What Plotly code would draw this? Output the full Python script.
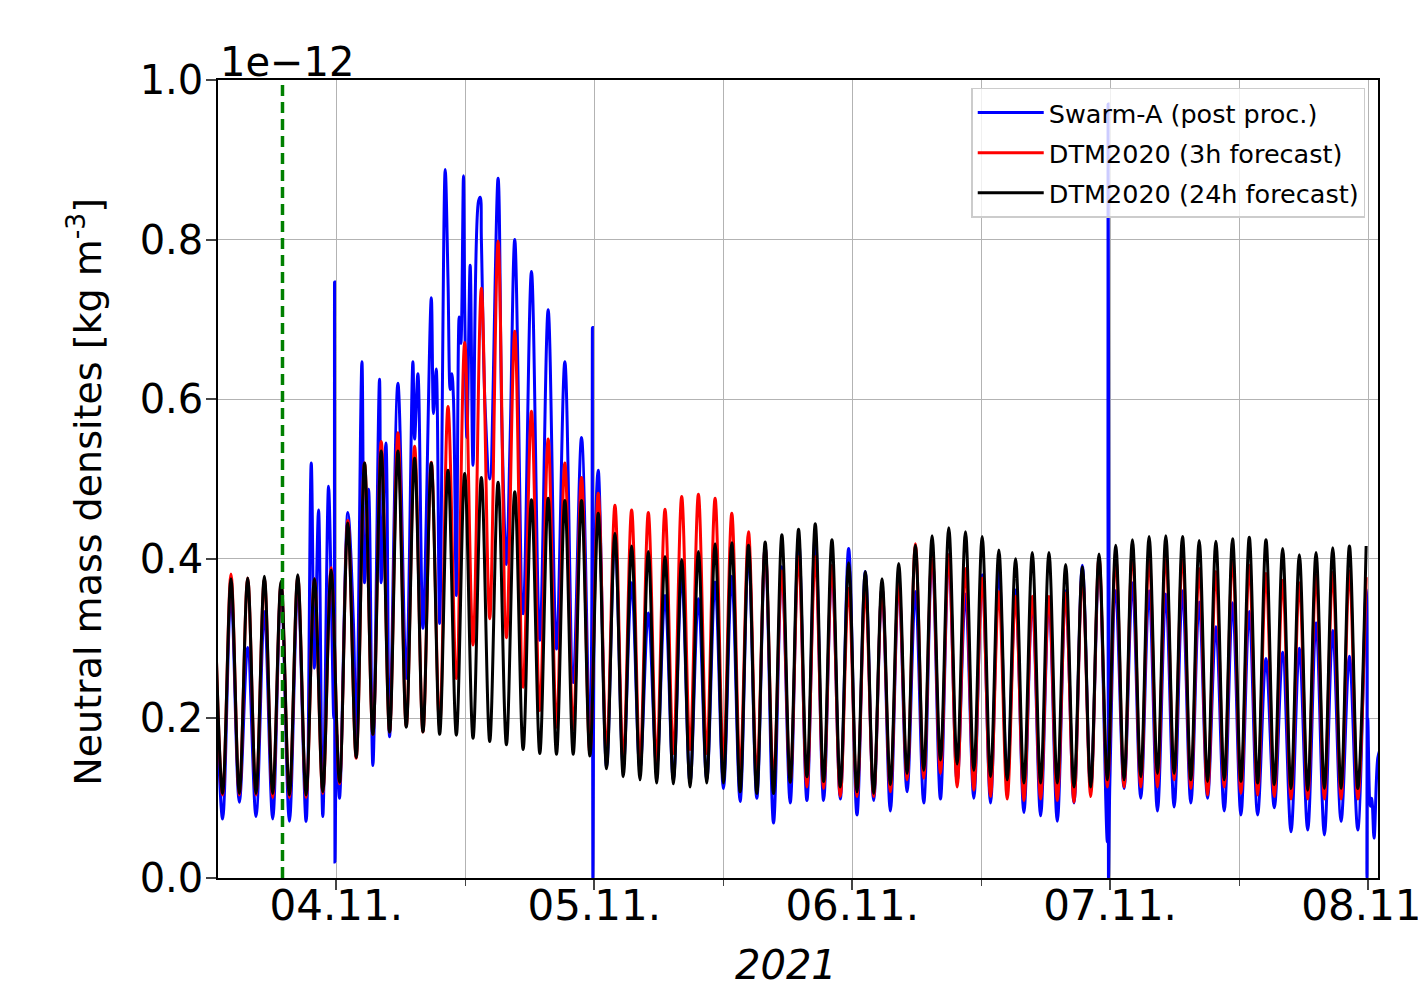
import pandas as pd
import plotly.graph_objects as go

# ---------------- data (values in units of 1e-12 kg m^-3) ----------------
orbit_first_peak = "2021-11-03 12:39:18"   # first orbit peak (just left of the view)
orbit_period_min = 93.18                    # Swarm-A orbital period

# DTM2020 (24h forecast): orbit maxima and minima
black_peaks = [0.37,
    0.375, 0.376, 0.378, 0.372, 0.38, 0.375, 0.386, 0.445, 0.52, 0.535, 0.535,
    0.526, 0.52, 0.511, 0.507, 0.502, 0.496, 0.484, 0.474, 0.476, 0.473, 0.473, 0.457,
    0.432, 0.416, 0.409, 0.403, 0.399, 0.409, 0.419, 0.42, 0.417, 0.421, 0.43,
    0.437, 0.444, 0.424, 0.395, 0.384, 0.375, 0.394, 0.417, 0.429, 0.439, 0.434,
    0.428, 0.411, 0.4, 0.408, 0.408, 0.393, 0.39, 0.406, 0.417, 0.424, 0.428, 0.429,
    0.428, 0.423, 0.422, 0.425, 0.427, 0.424, 0.413, 0.405, 0.408, 0.414, 0.416, 0.416]
black_troughs = [0.106,
    0.106, 0.106, 0.106, 0.104, 0.104, 0.108, 0.12, 0.151, 0.18, 0.183,
    0.189, 0.183, 0.18, 0.179, 0.175, 0.171, 0.167, 0.161, 0.156, 0.155, 0.155, 0.153,
    0.137, 0.127, 0.123, 0.119, 0.118, 0.114, 0.119, 0.119, 0.108, 0.106, 0.106, 0.12,
    0.127, 0.121, 0.114, 0.108, 0.106, 0.117, 0.131, 0.135, 0.148, 0.143, 0.135,
    0.127, 0.123, 0.119, 0.119, 0.119, 0.114, 0.114, 0.123, 0.123, 0.127, 0.131,
    0.131, 0.123, 0.121, 0.123, 0.121, 0.119, 0.117, 0.112, 0.11, 0.112, 0.112, 0.112]

# DTM2020 (3h forecast)
red_peaks = [0.37,
    0.381, 0.376, 0.375, 0.37, 0.378, 0.375, 0.389, 0.448, 0.52, 0.547, 0.558,
    0.541, 0.521, 0.591, 0.671, 0.739, 0.798, 0.685, 0.585, 0.55, 0.52, 0.502, 0.482,
    0.467, 0.461, 0.458, 0.462, 0.478, 0.481, 0.476, 0.457, 0.434, 0.415, 0.385,
    0.403, 0.403, 0.392, 0.363, 0.361, 0.365, 0.371, 0.419, 0.411, 0.405, 0.388,
    0.376, 0.359, 0.353, 0.353, 0.353, 0.357, 0.382, 0.403, 0.403, 0.411, 0.403, 0.407,
    0.407, 0.388, 0.384, 0.403, 0.392, 0.382, 0.373, 0.37, 0.38, 0.383, 0.385, 0.377]
red_troughs = [0.104,
    0.104, 0.104, 0.101, 0.101, 0.101, 0.106, 0.118, 0.15, 0.18, 0.183,
    0.19, 0.183, 0.189, 0.25, 0.292, 0.325, 0.301, 0.239, 0.21, 0.189, 0.186, 0.156,
    0.156, 0.146, 0.144, 0.146, 0.156, 0.161, 0.156, 0.148, 0.135, 0.127, 0.123, 0.12,
    0.114, 0.112, 0.102, 0.102, 0.102, 0.108, 0.123, 0.125, 0.131, 0.114, 0.11,
    0.102, 0.099, 0.097, 0.099, 0.097, 0.095, 0.102, 0.114, 0.114, 0.114, 0.114,
    0.123, 0.112, 0.104, 0.114, 0.106, 0.104, 0.102, 0.099, 0.099, 0.099, 0.099, 0.099]

# Swarm-A (post processed)
blue_peaks = [0.33,
    0.357, 0.289, 0.334, 0.366, 0.36, 0.263, 0.36, 0.458, 0.37, 0.37, 0.62,
    0.55, 0.727, 0.75, 0.72, 0.80, 0.877, 0.80, 0.76, 0.712, 0.647, 0.552, 0.511,
    0.43, 0.37, 0.332, 0.354, 0.38, 0.35, 0.371, 0.378, 0.41, 0.415, 0.39,
    0.426, 0.43, 0.39, 0.413, 0.384, 0.365, 0.37, 0.359, 0.41, 0.405, 0.356,
    0.38, 0.388, 0.361, 0.35, 0.35, 0.36, 0.392, 0.394, 0.36, 0.37, 0.36, 0.356,
    0.36, 0.346, 0.315, 0.345, 0.334, 0.275, 0.283, 0.288, 0.32, 0.31, 0.278, 0.362]
blue_troughs = [0.074,
    0.095, 0.077, 0.074, 0.071, 0.071, 0.077, 0.10, 0.151, 0.141, 0.177,
    0.25, 0.313, 0.319, 0.354, 0.517, 0.50, 0.393, 0.331, 0.298, 0.287, 0.245, 0.156,
    0.139, 0.139, 0.136, 0.139, 0.123, 0.119, 0.123, 0.112, 0.096, 0.1, 0.069, 0.094,
    0.097, 0.097, 0.099, 0.079, 0.097, 0.084, 0.108, 0.094, 0.099, 0.12, 0.1,
    0.094, 0.119, 0.082, 0.078, 0.071, 0.094, 0.11, 0.045, 0.112, 0.1, 0.084,
    0.089, 0.094, 0.1, 0.084, 0.079, 0.079, 0.088, 0.058, 0.06, 0.054, 0.071, 0.06]
# additional Swarm-A samples (spikes / storm structure), hours after 2021-11-03 00:00
blue_extra_hours = [21.675, 22.354, 23.284, 23.600, 23.768, 23.842, 23.879, 24.046,
    25.609, 26.390, 27.003, 28.026, 28.622, 31.132, 31.597, 33.048, 33.299,
    34.136, 34.601, 34.759, 34.908, 35.437, 35.595, 35.837, 36.153, 36.460,
    37.232, 37.400, 37.855, 39.408, 40.180, 47.758, 47.832, 47.870, 48.084,
    95.804, 95.841, 95.972,
    119.889, 119.963, 120.196, 120.335, 120.549, 120.893, 121.08]
blue_extra_vals = [0.52, 0.461, 0.491, 0.31, 0.20, 0.747, 0.02, 0.18,
    0.316, 0.647, 0.487, 0.625, 0.545, 0.647, 0.632, 0.582, 0.638,
    0.888, 0.612, 0.632, 0.60, 0.703, 0.67, 0.88, 0.552, 0.768,
    0.848, 0.853, 0.588, 0.57, 0.552, 0.30, 0.69, 0.0, 0.42,
    0.97, 0.0, 0.12,
    0.0, 0.20, 0.09, 0.10, 0.05, 0.15, 0.16]

event_time = "2021-11-03 19:00"
day_ticks = ["2021-11-04", "2021-11-05", "2021-11-06", "2021-11-07", "2021-11-08"]
day_labels = ["04.11.", "05.11.", "06.11.", "07.11.", "08.11."]
y_ticks = [0.0, 0.2, 0.4, 0.6, 0.8, 1.0]
x_range = ["2021-11-03 13:00", "2021-11-08 00:55"]

# ---------------- build series ----------------
t0 = pd.Timestamp(orbit_first_peak)
P = pd.Timedelta(minutes=orbit_period_min)


def orbit_series(peaks, troughs):
    ts, vs = [], []
    for k, pv in enumerate(peaks):
        ts.append(t0 + k * P)
        vs.append(pv)
        if k < len(troughs):
            ts.append(t0 + (k + 0.5) * P)
            vs.append(troughs[k])
    return pd.DataFrame({"t": ts, "v": vs})


black = orbit_series(black_peaks, black_troughs)
red = orbit_series(red_peaks, red_troughs)
blue = orbit_series(blue_peaks, blue_troughs)
extra = pd.DataFrame({
    "t": [pd.Timestamp("2021-11-03") + pd.Timedelta(hours=h) for h in blue_extra_hours],
    "v": blue_extra_vals})
blue = pd.concat([blue, extra]).sort_values("t").reset_index(drop=True)

FONT = "DejaVu Sans"
fig = go.Figure()
line_kw = dict(shape="spline", smoothing=1.0, width=3)
fig.add_trace(go.Scatter(x=blue["t"], y=blue["v"], mode="lines", legendgroup="a",
                         name="Swarm-A (post proc.)", line=dict(color="#0000ff", **line_kw)))
fig.add_trace(go.Scatter(x=red["t"], y=red["v"], mode="lines", legendgroup="b",
                         name="DTM2020 (3h forecast)", line=dict(color="#ff0000", **line_kw)))
fig.add_trace(go.Scatter(x=black["t"], y=black["v"], mode="lines", legendgroup="c",
                         name="DTM2020 (24h forecast)", line=dict(color="#000000", **line_kw)))
fig.add_trace(go.Scatter(x=[event_time, event_time], y=[0, 1], mode="lines", showlegend=False,
                         line=dict(color="#008000", width=3.5, dash="11px,6px")))

grid = "#b3b3b3"
fig.update_layout(
    width=1418, height=988,
    margin=dict(l=218, r=40, t=80, b=110),
    paper_bgcolor="white", plot_bgcolor="white",
    font=dict(family=FONT, color="black"),
    showlegend=True,
    legend=dict(x=0.989, y=0.99, xanchor="right", yanchor="top",
                bgcolor="rgba(255,255,255,0.8)", bordercolor="#cccccc", borderwidth=1.5,
                font=dict(size=25.5, family=FONT), itemwidth=66, tracegroupgap=4),
    xaxis=dict(type="date", range=x_range, tickmode="array", tickvals=day_ticks,
               ticktext=day_labels, tickfont=dict(size=42), ticks="outside", ticklen=10,
               tickwidth=1.5, showline=True, linecolor="black", linewidth=1.5, mirror=True,
               showgrid=True, gridcolor=grid, gridwidth=1, zeroline=False, automargin=False,
               ticklabeloverflow="allow", ticklabelstandoff=-20,
               minor=dict(tick0="2021-11-03 12:00", dtick=12 * 3600 * 1000, ticks="outside",
                          ticklen=6, tickwidth=1, showgrid=True, gridcolor=grid, gridwidth=1)),
    yaxis=dict(range=[0, 1.0], tickmode="array", tickvals=y_ticks,
               ticktext=[f"{v:.1f}" for v in y_ticks], tickfont=dict(size=40),
               ticks="outside", ticklen=10, tickwidth=1.5, showline=True, linecolor="black",
               linewidth=1.5, mirror=True, showgrid=True, gridcolor=grid, gridwidth=1,
               zeroline=False, ticklabelstandoff=-5, automargin=False),
    annotations=[
        dict(text="1e\u221212", x=0, y=1, xref="paper", yref="paper", xanchor="left",
             yanchor="bottom", yshift=-7, showarrow=False, font=dict(size=40, family=FONT)),
        dict(text="Neutral mass densites [kg m<sup>-3</sup>]", x=-0.1147, y=0.484,
             xref="paper", yref="paper", textangle=-90, xanchor="center", yanchor="middle",
             showarrow=False, font=dict(size=38, family=FONT)),
        dict(text="<i>2021</i>", x=0.4897, y=-0.109, xref="paper", yref="paper",
             xanchor="center", yanchor="middle", showarrow=False, font=dict(size=40, family=FONT)),
    ],
)

fig.write_html("out.html")
